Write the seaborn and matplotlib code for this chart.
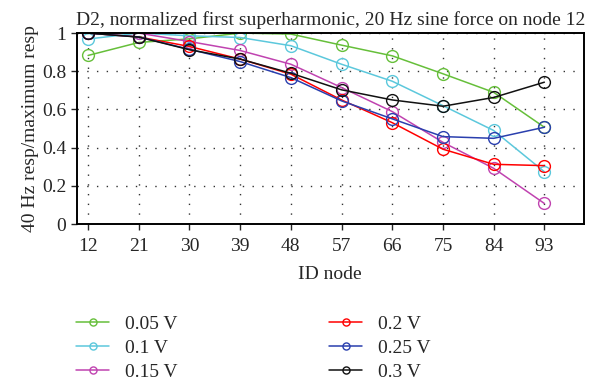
import pandas as pd
import matplotlib
matplotlib.use("Agg")
import matplotlib.pyplot as plt
import seaborn as sns

# Node IDs along the x axis
nodes = [12, 21, 30, 39, 48, 57, 66, 75, 84, 93]

# Normalized responses, one list per drive voltage
v005 = [0.883, 0.951, 0.97, 1.0, 0.995, 0.937, 0.881, 0.787, 0.69, 0.507]
v01 = [0.969, 1.0, 0.986, 0.977, 0.934, 0.837, 0.748, 0.62, 0.49, 0.274]
v015 = [1.0, 1.0, 0.956, 0.909, 0.837, 0.715, 0.589, 0.428, 0.292, 0.108]
v02 = [1.0, 0.98, 0.93, 0.864, 0.785, 0.65, 0.531, 0.392, 0.313, 0.306]
v025 = [1.0, 0.98, 0.915, 0.851, 0.767, 0.645, 0.551, 0.458, 0.449, 0.507]
v03 = [1.0, 0.979, 0.913, 0.864, 0.79, 0.703, 0.65, 0.617, 0.663, 0.743]

labels = ["0.05 V", "0.1 V", "0.15 V", "0.2 V", "0.25 V", "0.3 V"]
series = [v005, v01, v015, v02, v025, v03]
colors = ["#66bf3a", "#5cc8dc", "#c043b0", "#ff0000", "#2a3fae", "#111111"]

sns.set_style("ticks")
plt.rcParams['font.family'] = ['Liberation Serif', 'DejaVu Serif']
plt.rcParams['font.size'] = 14

fig = plt.figure(figsize=(6, 3.85), dpi=100)
ax = fig.add_axes([0.128, 0.418, 0.845, 0.496])

for lab, vals, col in zip(labels, series, colors):
    df = pd.DataFrame({"node": nodes, "resp": vals})
    sns.lineplot(data=df, x="node", y="resp", ax=ax, color=col, marker="o",
                 markerfacecolor="none", markeredgecolor=col, markersize=8.5,
                 markeredgewidth=1.0, linewidth=1.1, label=lab)

ax.set_xlim(10, 100)
ax.set_ylim(0, 1)
ax.set_xticks(nodes)
ax.set_yticks([0, 0.2, 0.4, 0.6, 0.8, 1.0])
ax.set_yticklabels(["0", "0.2", "0.4", "0.6", "0.8", "1"])
ax.grid(True, linestyle=(0, (1, 6)), color="#333333", linewidth=1.0)
for s in ax.spines.values():
    s.set_linewidth(1.4)
    s.set_color("black")
ax.tick_params(direction="out", length=4, width=1, labelsize=14)
ax.tick_params(axis="x", pad=6)

ax.set_title("D2, normalized first superharmonic, 20 Hz sine force on node 12",
             fontsize=14, pad=6)
ax.set_xlabel("ID node", fontsize=14, labelpad=8)
ax.set_ylabel("40 Hz resp/maximum resp", fontsize=14, labelpad=2)

handles, labs = ax.get_legend_handles_labels()
ax.get_legend().remove()
fig.legend(handles, labs, ncol=2, frameon=False, loc="upper left",
           bbox_to_anchor=(0.098, 0.227), fontsize=14, handlelength=1.7,
           markerscale=0.6, columnspacing=7.8, labelspacing=0.33,
           handletextpad=0.8)

fig.savefig("out.png", dpi=100)
